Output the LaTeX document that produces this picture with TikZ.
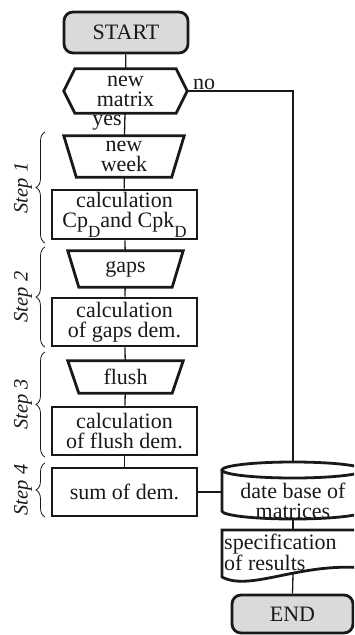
\documentclass[tikz,border=0pt]{standalone}
\usepackage{fontspec}
\setmainfont{Liberation Serif}
\usetikzlibrary{decorations.pathreplacing,calc}
\definecolor{termgray}{RGB}{218,218,218}
\definecolor{ink}{RGB}{25,25,25}
\newcommand{\subD}{\raisebox{-10pt}{\fontsize{17}{17}\selectfont D}}
\begin{document}
\begin{tikzpicture}[x=1pt,y=-1pt,
  txt/.style={font=\fontsize{22}{20}\selectfont, align=center, inner sep=0pt, text=ink},
  box/.style={txt, draw=ink, line width=2.8pt, minimum width=145pt, minimum height=48pt},
  term/.style={txt, draw=ink, line width=2.8pt, fill=termgray, rounded corners=9pt},
  hold/.style={txt, minimum width=#1},
  outline/.style={draw=ink, line width=2.8pt, line join=miter},
  conn/.style={draw=ink, line width=1.3pt},
  bracel/.style={draw=ink, line width=0.8pt, decorate, decoration={brace, amplitude=9pt}},
  steplbl/.style={font=\fontsize{20.5}{20.5}\selectfont\itshape, inner sep=0pt, rotate=90, text=ink}
]
\useasboundingbox (0,0) rectangle (354,635);
\clip (0,0) rectangle (354,635);

% main column
\node[term, minimum width=124pt, minimum height=41pt] (start) at (126,32.5) {START};
\node[hold=123pt, minimum height=44pt] (nm) at (125.5,91) {new\\matrix};
\draw[outline] (nm.west) -- ($(nm.north west)+(11,0)$) -- ($(nm.north east)+(-11,0)$) -- (nm.east)
  -- ($(nm.south east)+(-11,0)$) -- ($(nm.south west)+(11,0)$) -- cycle;

\node[hold=120pt, minimum height=41pt] (nw) at (124,156.5) {new\\week};
\draw[outline] (nw.north west) -- (nw.north east) -- ($(nw.south east)+(-12.5,0)$) -- ($(nw.south west)+(12.5,0)$) -- cycle;

\node[box, minimum height=49pt] (cp) at (124.5,214.5) {calculation\\Cp\subD and Cpk\subD};

\node[hold=115pt, minimum height=36pt] (gaps) at (125.5,269) {gaps};
\draw[outline] (gaps.north west) -- (gaps.north east) -- ($(gaps.south east)+(-11,0)$) -- ($(gaps.south west)+(11,0)$) -- cycle;

\node[box] (cg) at (124.5,322) {calculation\\of gaps dem.};

\node[hold=115pt, minimum height=32pt] (flush) at (125.5,377) {flush};
\draw[outline] (flush.north west) -- (flush.north east) -- ($(flush.south east)+(-11,0)$) -- ($(flush.south west)+(11,0)$) -- cycle;

\node[box] (cf) at (124.5,431) {calculation\\of flush dem.};
\node[box] (sum) at (124.5,492) {sum of dem.};

% right column
\node[hold=142pt, minimum height=58pt] (db) at (293,491) {};
\node[txt] (dbt) at (293,501) {date base of\\matrices};
\draw[outline] (222,470) -- (222,511) arc[start angle=180, end angle=360, x radius=71pt, y radius=8pt] -- (364,470);
\draw[outline] (293,470) ellipse[x radius=71pt, y radius=8pt];

\node[hold=142pt, minimum height=52pt] (spec) at (293,556) {};
\draw[outline] (364,568) -- (364,530) -- (222,530) -- (222,577) .. controls (250,592) and (300,562) .. (364,568);
\node[txt, anchor=west, align=left] (spect) at (224,552) {specification\\of results};
\coordinate (wave) at (293,574);

\node[term, minimum width=121pt, minimum height=38pt] (end) at (292.5,614) {END};

% connectors
\draw[conn] (start) -- (nm);
\draw[conn] (nm) -- (nw);
\draw[conn] (nw) -- (cp);
\draw[conn] (cp) -- (gaps);
\draw[conn] (gaps) -- (cg);
\draw[conn] (cg) -- (flush);
\draw[conn] (flush) -- (cf);
\draw[conn] (cf) -- (sum);
\coordinate (corner) at (293,91);
\draw[conn] (nm.east) -- (corner) -- (corner |- db.north);
\draw[conn] (sum.east) -- (sum.east -| db.west);
\draw[conn] (db.south) -- (spec.north);
\draw[conn] (wave) -- (end.north);

\node[txt] (no) at (204,84) {no};
\node[txt] (yes) at (107,123) {yes};

% steps
\draw[bracel] (45,243) -- (45,132);
\node[steplbl] (s1) at (23,188) {Step 1};
\draw[bracel] (45,347) -- (45,247);
\node[steplbl] (s2) at (23,297) {Step 2};
\draw[bracel] (45,457) -- (45,352);
\node[steplbl] (s3) at (23,404.5) {Step 3};
\draw[bracel] (45,517) -- (45,463);
\node[steplbl] (s4) at (23,490) {Step 4};
\end{tikzpicture}
\end{document}
